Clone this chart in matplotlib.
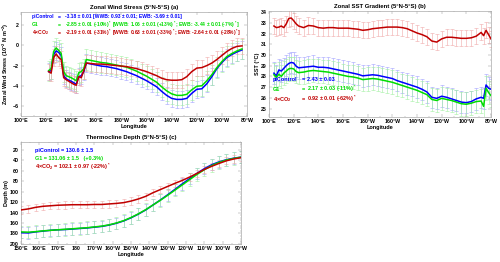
import matplotlib
matplotlib.use("Agg")
from matplotlib import pyplot as plt
from matplotlib.ticker import AutoMinorLocator, FuncFormatter
import numpy as np

plt.rcParams["font.family"] = ["Liberation Sans", "DejaVu Sans"]
plt.rcParams["mathtext.fontset"] = "custom"
plt.rcParams["mathtext.rm"] = "Liberation Sans:bold"
plt.rcParams["mathtext.it"] = "Liberation Sans:bold"
plt.rcParams["mathtext.bf"] = "Liberation Sans:bold"

# colours for piControl, G1, 4xCO2 (line, errorbar)
BLUE, BLUE_E = "#0000ff", "#a0a0ff"
GREEN, GREEN_E = "#00dd00", "#a0f0a0"
RED, RED_E = "#c00000", "#f0a8a8"

# (a) zonal wind stress, 10^-2 N m^-2
lon_a = [122, 124, 126, 128, 130, 132, 134, 136, 138, 140, 142, 144, 146, 148, 150, 152,
         156, 160, 164, 168, 172, 176, 180, 184, 188, 192, 196, 200, 204, 208, 212, 216,
         220, 224, 228, 232, 236, 240, 244, 248, 252, 256, 260, 264, 268, 272, 276]
tau_pi = [-2.6, -2.5, -0.9, -0.55, -0.7, -1.0, -3.0, -3.3, -3.45, -3.55, -3.7, -3.85, -3.1, -3.0, -2.6, -1.75,
          -1.85, -1.95, -2.05, -2.1, -2.2, -2.3, -2.45, -2.6, -2.8, -3.0, -3.25, -3.5, -3.8, -4.1, -4.55, -4.95,
          -5.25, -5.35, -5.35, -5.25, -4.75, -4.35, -4.3, -3.8, -3.1, -2.3, -1.7, -1.2, -0.9, -0.65, -0.45]
tau_g1 = [-2.5, -2.3, -0.6, -0.25, -0.5, -0.8, -2.6, -3.0, -3.1, -3.2, -3.35, -3.5, -2.7, -2.6, -2.3, -1.4,
          -1.5, -1.6, -1.7, -1.75, -1.85, -1.95, -2.05, -2.15, -2.35, -2.55, -2.8, -3.05, -3.35, -3.65, -4.1, -4.5,
          -4.8, -4.95, -4.95, -4.85, -4.4, -4.05, -4.0, -3.5, -2.9, -2.2, -1.6, -1.1, -0.8, -0.55, -0.35]
tau_4x = [-2.6, -2.75, -1.2, -0.85, -1.2, -1.4, -3.2, -3.4, -3.55, -3.7, -3.85, -3.95, -3.1, -3.2, -2.5, -1.75,
          -1.8, -1.85, -1.85, -1.9, -1.95, -2.0, -2.05, -2.1, -2.2, -2.3, -2.45, -2.6, -2.8, -3.0, -3.25, -3.4,
          -3.45, -3.45, -3.4, -3.1, -2.6, -2.25, -2.2, -2.0, -1.75, -1.4, -1.0, -0.6, -0.3, -0.1, -0.05]
err_a = [0.85, 1.0, 0.8]

# (b) SST, degC
lon_b = [104, 106, 108, 110, 112, 114, 116, 118, 120, 122, 124, 128, 132, 136, 140, 144, 148, 152,
         156, 160, 164, 168, 172, 176, 180, 184, 188, 192, 196, 200, 204, 208, 212, 216, 220, 224,
         228, 232, 236, 240, 244, 248, 252, 256, 260, 264, 268, 272, 274, 276, 278, 280]
sst_pi = [28.3, 28.05, 28.6, 28.5, 28.75, 29.0, 29.2, 29.3, 29.25, 28.95, 28.8, 28.85, 28.9, 28.95, 28.85, 28.85, 28.8, 28.7,
          28.6, 28.5, 28.4, 28.3, 28.2, 28.05, 28.1, 28.15, 28.1, 28.0, 27.9, 27.8, 27.6, 27.45, 27.3, 27.15, 27.0, 26.8,
          26.55, 26.05, 25.95, 26.15, 26.05, 25.9, 25.75, 25.6, 25.55, 25.65, 25.9, 26.05, 25.95, 27.2, 26.9, 26.8]
sst_g1 = [28.15, 27.9, 28.2, 28.0, 28.3, 28.5, 28.7, 28.75, 28.7, 28.45, 28.35, 28.4, 28.5, 28.55, 28.5, 28.45, 28.4, 28.3,
          28.2, 28.1, 28.0, 27.95, 27.85, 27.7, 27.75, 27.8, 27.75, 27.65, 27.55, 27.45, 27.3, 27.15, 27.0, 26.85, 26.7, 26.5,
          26.3, 25.85, 25.75, 25.95, 25.85, 25.75, 25.6, 25.45, 25.4, 25.5, 25.65, 25.7, 25.2, 26.9, 26.5, 26.2]
sst_4x = [32.7, 32.55, 32.6, 32.7, 32.55, 32.9, 33.4, 33.45, 33.2, 32.9, 32.7, 32.55, 32.75, 32.7, 32.55, 32.5, 32.55, 32.55,
          32.5, 32.5, 32.5, 32.45, 32.4, 32.3, 32.35, 32.45, 32.5, 32.55, 32.6, 32.6, 32.6, 32.55, 32.45, 32.25, 32.05, 31.9,
          31.7, 31.3, 31.2, 31.5, 31.65, 31.65, 31.6, 31.55, 31.55, 31.6, 31.75, 32.1, 31.8, 32.3, 31.9, 31.5]
err_b = [1.0, 1.1, 0.75]

# (c) thermocline depth, m
lon_c = [150, 154, 158, 162, 166, 170, 174, 178, 182, 186, 190, 194, 198, 202, 206, 210,
         214, 218, 222, 226, 230, 234, 238, 242, 246, 250, 254, 258, 262, 266, 270]
dep_pi = [178.5, 179, 177, 175.5, 174, 173, 172.5, 171.5, 170.5, 169.5, 168, 166.5, 164, 160.5, 156, 150,
          143, 135, 125.5, 116, 106, 95.5, 85, 75, 65, 56, 48.5, 43, 39, 36, 34]
dep_g1 = [177, 177.5, 176.5, 175, 174, 173, 172, 171, 170, 169, 167.5, 166, 163.5, 160, 155.5, 149.5,
          142.5, 134.5, 125.5, 116.5, 107, 97, 87, 77, 67, 58, 50, 44, 39.5, 36.5, 34]
dep_4x = [135, 133, 130, 128, 127, 126, 125.5, 125, 125, 125, 124.5, 124.5, 123.5, 122.5, 121, 118,
          114, 109, 102, 96, 90, 84, 78.5, 72, 65, 57.5, 51.5, 46, 41, 37.5, 35]
err_c = [11, 12, 7]

FS = 4.0


def lon_label(lon, dateline):
    lon = int(round(lon))
    if lon < 180:
        return str(lon) + "°E"
    if lon == 180:
        return dateline
    return str(360 - lon) + "°W"


def style_axes(ax, title, ylabel):
    ax.set_title(title, fontsize=FS + 0.3, fontweight="bold", pad=2)
    ax.set_ylabel(ylabel, fontsize=FS, fontweight="bold", labelpad=1)
    ax.set_xlabel("Longitude", fontsize=FS, fontweight="bold", labelpad=0.5)
    ax.tick_params(which="both", direction="in", top=True, right=True, width=0.3,
                   labelsize=FS - 0.2, pad=1.5, color="#888888")
    ax.tick_params(which="major", length=2)
    ax.tick_params(which="minor", length=1)
    ax.xaxis.set_minor_locator(AutoMinorLocator(2))
    ax.yaxis.set_minor_locator(AutoMinorLocator(2))
    for s in ax.spines.values():
        s.set_color("#aaaaaa")
        s.set_linewidth(0.5)
    for lab in ax.get_xticklabels() + ax.get_yticklabels():
        lab.set_fontweight("bold")


def draw_series(ax, x, ys, errs):
    for y, e, c, ec in zip(ys, errs, [BLUE, GREEN, RED], [BLUE_E, GREEN_E, RED_E]):
        ax.errorbar(x, y, yerr=e, fmt="none", ecolor=ec, elinewidth=0.4,
                    capsize=1.3, capthick=0.4, zorder=1)
    for y, c in zip(ys, [BLUE, GREEN, RED]):
        ax.plot(x, y, color=c, linewidth=1.1, zorder=3)


def legend_cols(ax, x0, x1, x2, ys, labels, values, fs=FS):
    for y, lab, val, c in zip(ys, labels, values, [BLUE, GREEN, RED]):
        kw = dict(transform=ax.transAxes, fontsize=fs, fontweight="bold", color=c, va="center")
        ax.text(x0, y, lab, **kw)
        ax.text(x1, y, "=", **kw)
        ax.text(x2, y, val, **kw)


fig = plt.figure(figsize=(5.0, 2.62), dpi=100)
ax_a = fig.add_axes([0.042, 0.557, 0.452, 0.397])
ax_b = fig.add_axes([0.538, 0.553, 0.444, 0.405])
ax_c = fig.add_axes([0.042, 0.069, 0.44, 0.389])

# (a)
draw_series(ax_a, lon_a, [tau_pi, tau_g1, tau_4x], err_a)
ax_a.set_xlim(100, 280)
ax_a.set_ylim(-7, 3.3)
ax_a.set_xticks(np.arange(100, 281, 20))
ax_a.set_yticks([-6, -4, -2, 0, 2])
ax_a.xaxis.set_major_formatter(FuncFormatter(lambda v, p: lon_label(v, "180°W")))
style_axes(ax_a, "Zonal Wind Stress (5°N-5°S) (a)", "Zonal Wind Stress (10$^{-2}$ N m$^{-2}$)")
legend_cols(ax_a, 0.049, 0.164, 0.195, [0.955, 0.878, 0.80],
            ["piControl", "G1", "4×CO$_2$"],
            ["-3.18 ± 0.01 [WWB: 0.93 ± 0.01; EWB: -3.69 ± 0.01]",
             "-2.85 ± 0.01 (-10%)$^*$ [WWB: 1.06 ± 0.01 (+13%)$^*$; EWB: -3.44 ± 0.01 (-7%)$^*$]",
             "-2.19 ± 0.01 (-31%)$^*$ [WWB: 0.63 ± 0.01 (-33%)$^*$; EWB: -2.64 ± 0.01 (-28%)$^*$]"],
            fs=3.6)

# (b)
draw_series(ax_b, lon_b, [sst_pi, sst_g1, sst_4x], err_b)
ax_b.set_xlim(100, 280)
ax_b.set_ylim(24.2, 34.1)
ax_b.set_xticks(np.arange(100, 281, 20))
ax_b.set_yticks(np.arange(25, 35, 1))
ax_b.xaxis.set_major_formatter(FuncFormatter(lambda v, p: lon_label(v, "180°W")))
style_axes(ax_b, "Zonal SST Gradient (5°N-5°S) (b)", "SST (°C)")
legend_cols(ax_b, 0.018, 0.147, 0.171, [0.358, 0.264, 0.17],
            ["piControl", "G1", "4×CO$_2$"],
            ["2.43 ± 0.03", "2.17 ± 0.03 (-11%)$^*$", "0.92 ± 0.01 (-62%)$^*$"])

# (c)
draw_series(ax_c, lon_c, [dep_pi, dep_g1, dep_4x], err_c)
ax_c.set_xlim(150, 270)
ax_c.set_ylim(200, 5)
ax_c.set_xticks(np.arange(150, 271, 10))
ax_c.set_yticks(np.arange(20, 201, 20))
ax_c.xaxis.set_major_formatter(FuncFormatter(lambda v, p: lon_label(v, "180")))
style_axes(ax_c, "Thermocline Depth (5°N-5°S) (c)", "Depth (m)")
ax_c.yaxis.set_minor_locator(AutoMinorLocator(4))
for y, s, c in zip([0.92, 0.84, 0.76],
                   ["piControl = 130.6 ± 1.5", "G1 = 131.06 ± 1.5   (+0.3%)",
                    "4×CO$_2$ = 102.1 ± 0.97 (-22%)$^*$"],
                   [BLUE, GREEN, RED]):
    ax_c.text(0.064, y, s, transform=ax_c.transAxes, fontsize=FS, fontweight="bold",
              color=c, va="center")

fig.savefig("out.png", dpi=100)
